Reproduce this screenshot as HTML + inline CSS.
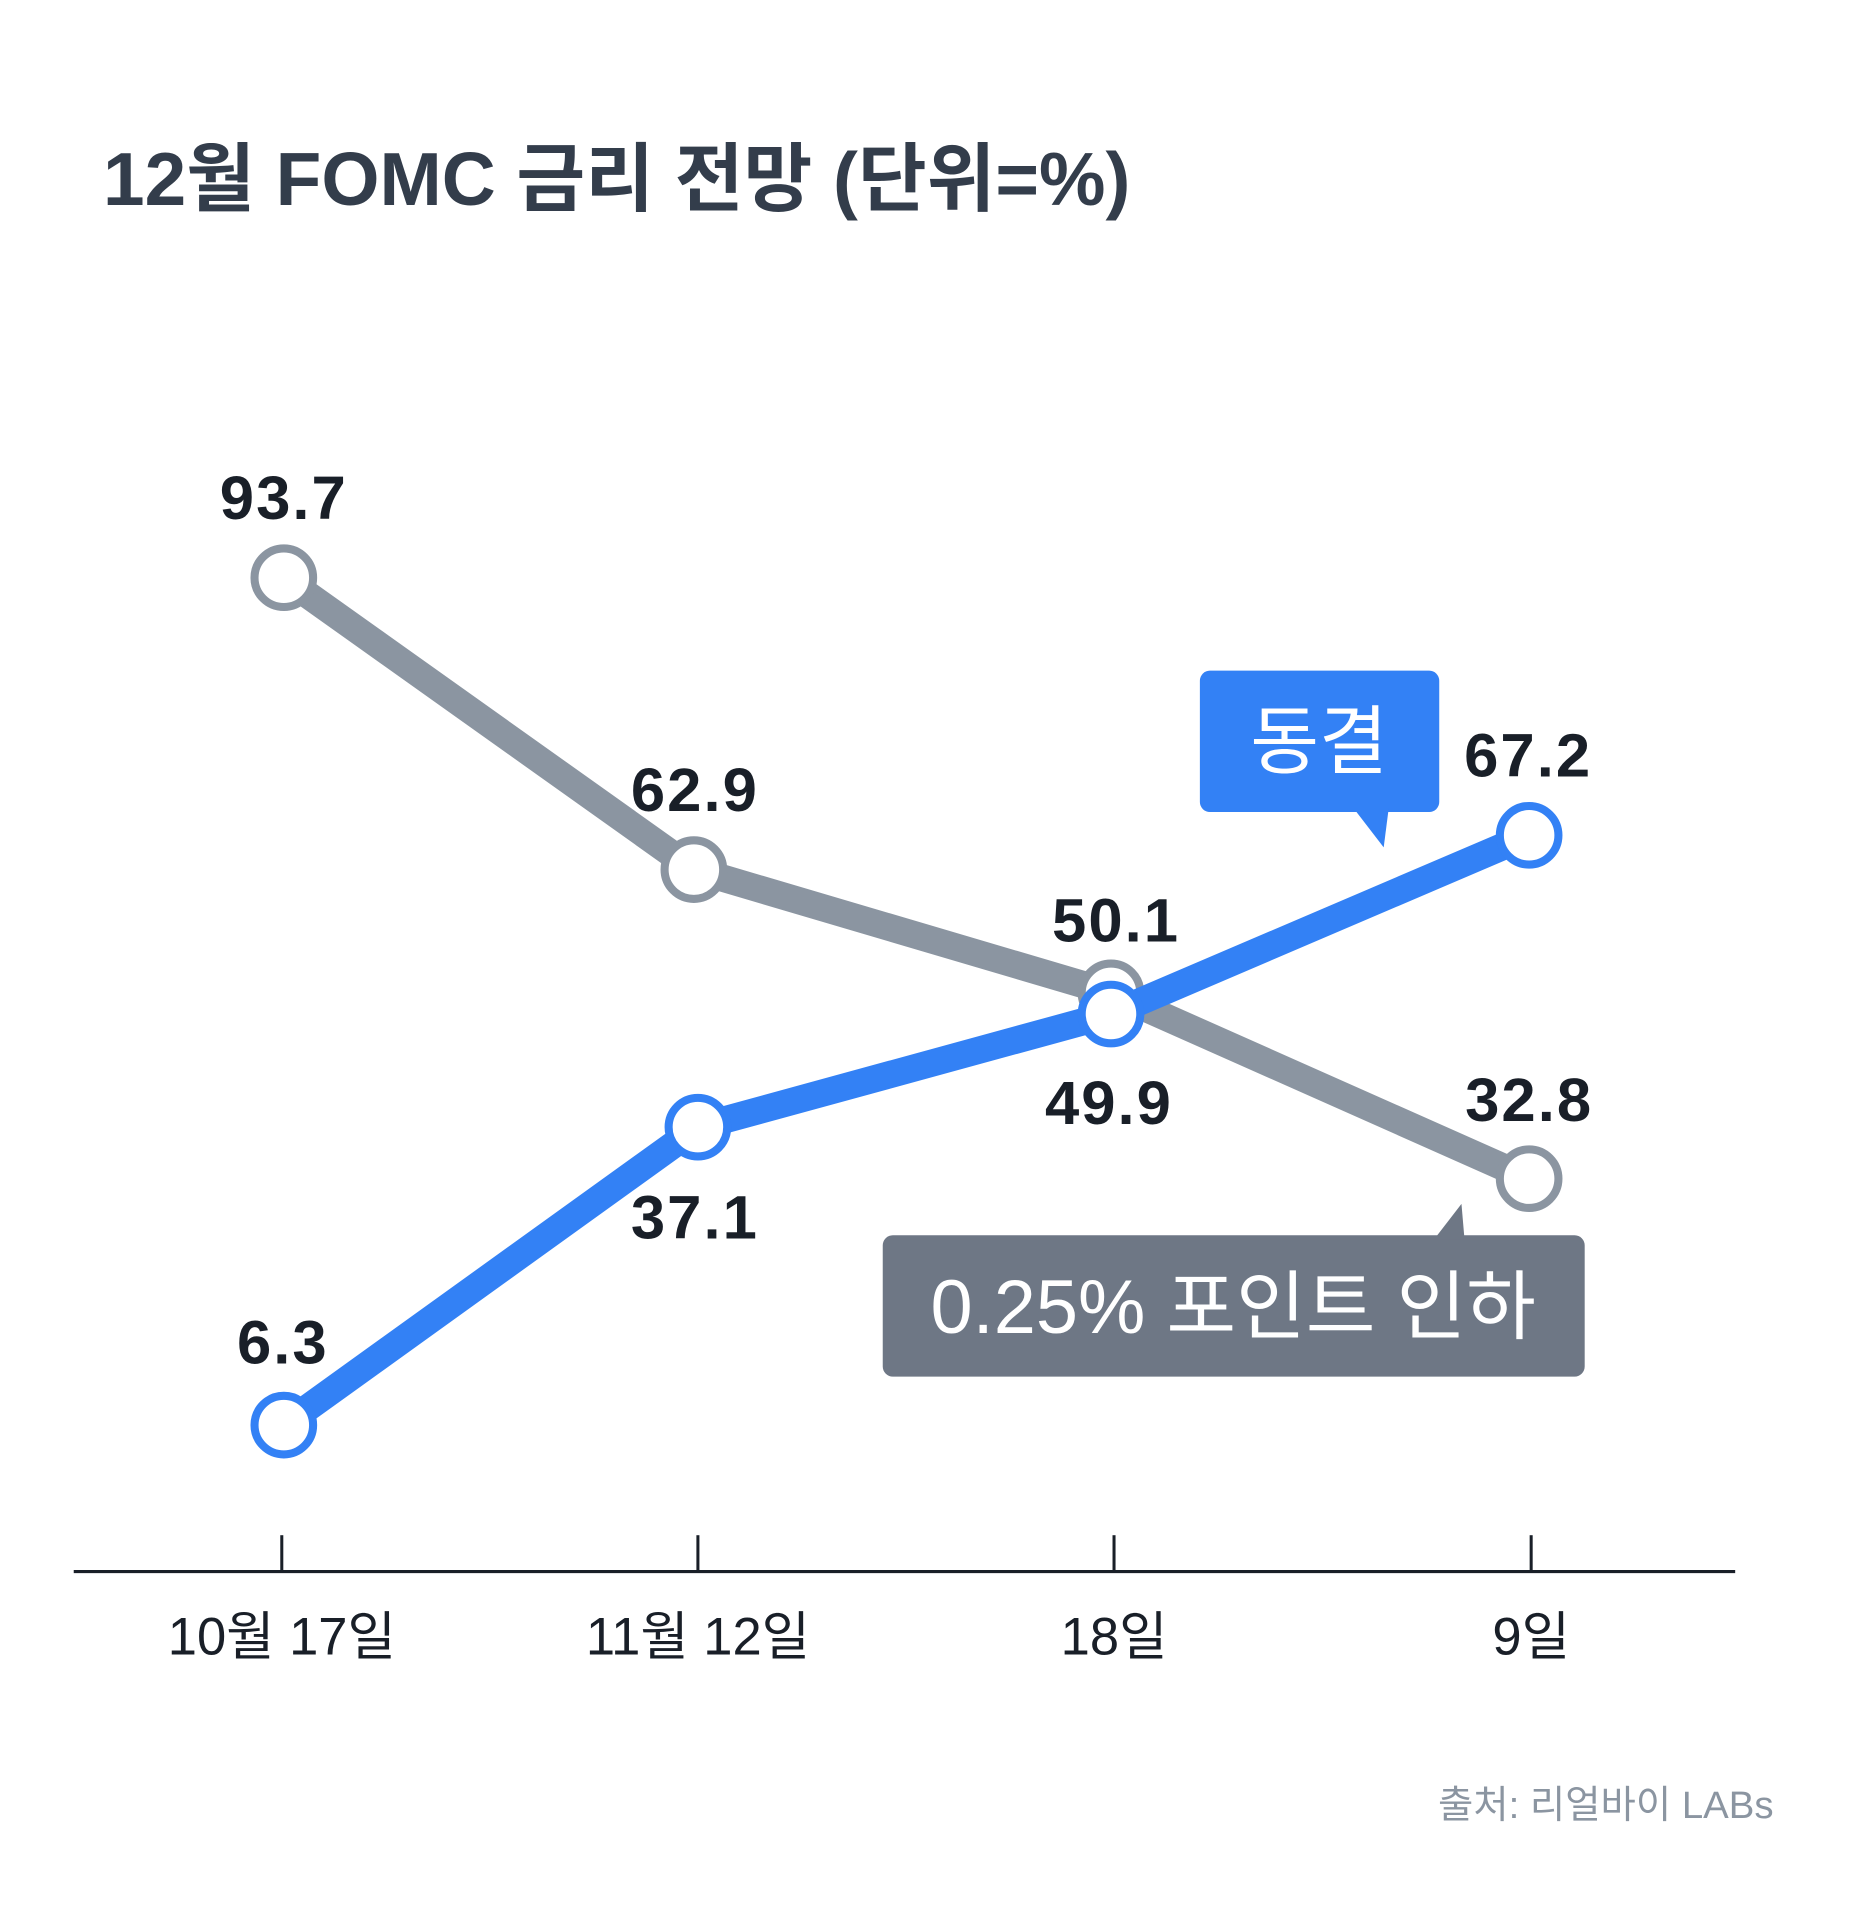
<!DOCTYPE html>
<html><head><meta charset="utf-8"><style>
body{margin:0;background:#fff}
svg text{font-family:"Liberation Sans","Noto Sans CJK KR",sans-serif}
</style></head><body>
<svg width="1860" height="1920" viewBox="0 0 1860 1920" xmlns="http://www.w3.org/2000/svg">
<rect width="1860" height="1920" fill="#fff"/>
<g transform="scale(1.01)">
<text x="102" y="203" font-size="74" font-weight="bold" fill="#333d4b">12월 FOMC 금리 전망 (단위=%)</text>
<line x1="73" y1="1556" x2="1718" y2="1556" stroke="#191f28" stroke-width="3"/>
<g stroke="#191f28" stroke-width="3">
<line x1="279" y1="1520" x2="279" y2="1556"/><line x1="691" y1="1520" x2="691" y2="1556"/>
<line x1="1103" y1="1520" x2="1103" y2="1556"/><line x1="1516" y1="1520" x2="1516" y2="1556"/>
</g>
<g font-size="52" fill="#191f28" text-anchor="middle">
<text x="279" y="1638">10월 17일</text><text x="691" y="1638">11월 12일</text>
<text x="1103" y="1638">18일</text><text x="1516" y="1638">9일</text>
</g>
<polyline points="281,572 687,861 1100,983 1514,1167" fill="none" stroke="#8b95a1" stroke-width="27" stroke-linejoin="round"/>
<g fill="#fff" stroke="#8b95a1" stroke-width="8">
<circle cx="281" cy="572" r="29"/><circle cx="687" cy="861" r="29"/><circle cx="1100" cy="983" r="29"/><circle cx="1514" cy="1167" r="29"/>
</g>
<polyline points="281,1411 691,1116 1100,1004 1514,827" fill="none" stroke="#3381f5" stroke-width="27" stroke-linejoin="round"/>
<g fill="#fff" stroke="#3381f5" stroke-width="8">
<circle cx="281" cy="1411" r="29"/><circle cx="691" cy="1116" r="29"/><circle cx="1100" cy="1004" r="29"/><circle cx="1514" cy="827" r="29"/>
</g>
<g font-size="61" font-weight="bold" fill="#191f28" text-anchor="middle" letter-spacing="2">
<text x="281" y="514">93.7</text><text x="688" y="803">62.9</text><text x="1105" y="932">50.1</text>
<text x="1513" y="769">67.2</text><text x="1514" y="1110">32.8</text><text x="1098" y="1113">49.9</text>
<text x="688" y="1226">37.1</text><text x="280" y="1350">6.3</text>
</g>
<rect x="1188" y="664" width="237" height="140" rx="10" fill="#3381f5"/>
<polygon points="1340,800 1375,800 1370,839" fill="#3381f5"/>
<text x="1306" y="760" font-size="74" fill="#fff" text-anchor="middle">동결</text>
<rect x="874" y="1223" width="695" height="140" rx="10" fill="#6e7785"/>
<polygon points="1420,1227 1450,1227 1447,1192" fill="#6e7785"/>
<text x="1221" y="1320" font-size="75" fill="#fff" text-anchor="middle">0.25% 포인트 인하</text>
<text x="1756" y="1800" font-size="38" fill="#8b95a1" text-anchor="end">출처: 리얼바이 LABs</text>
</g>
</svg>
</body></html>
